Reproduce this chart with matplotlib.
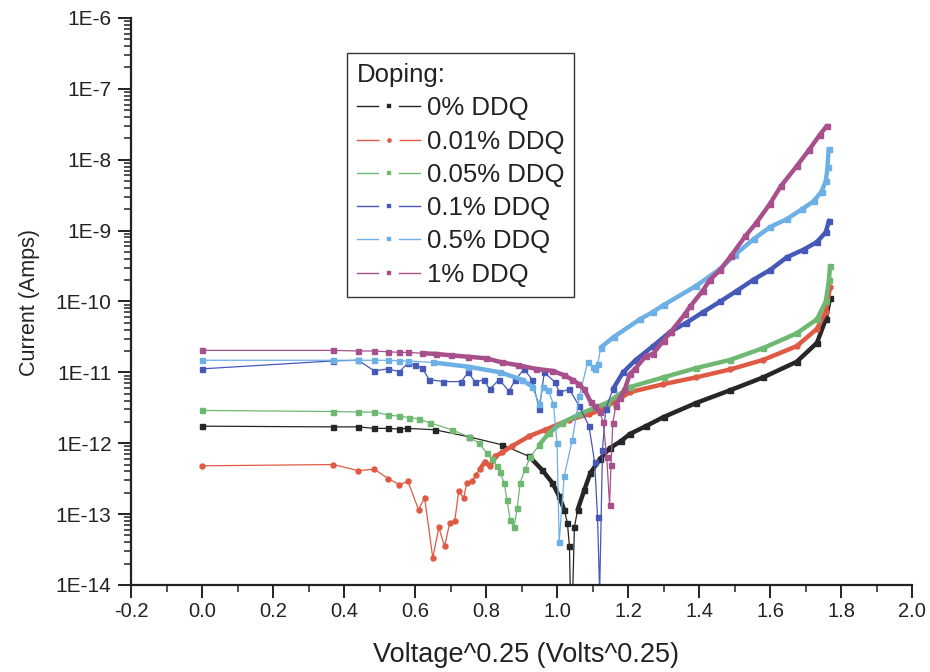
import numpy as np
import matplotlib
matplotlib.use("Agg")
import matplotlib.pyplot as plt
from matplotlib.lines import Line2D
from matplotlib.ticker import LogLocator, FuncFormatter, MultipleLocator, NullFormatter

plt.rcParams['font.family'] = ['Liberation Sans', 'DejaVu Sans']

# ---------------- data ----------------
labels = ["0% DDQ", "0.01% DDQ", "0.05% DDQ", "0.1% DDQ", "0.5% DDQ", "1% DDQ"]

x_0pct = [0.0, 0.37, 0.44, 0.485, 0.525, 0.556, 0.576, 0.655, 0.752, 0.845, 0.922, 0.958,
          0.987, 1.006, 1.020, 1.029, 1.035, 1.038, 1.043, 1.049, 1.058, 1.077, 1.094, 1.12,
          1.148, 1.18, 1.205, 1.25, 1.30, 1.392, 1.488, 1.581, 1.675, 1.732, 1.757, 1.769]
i_0pct = [1.74e-12, 1.7e-12, 1.7e-12, 1.62e-12, 1.62e-12, 1.58e-12, 1.62e-12, 1.55e-12, 1.23e-12,
          9.5e-13, 6.5e-13, 4.2e-13, 2.75e-13, 1.78e-13, 1.15e-13, 7.6e-14, 3.5e-14, 5.0e-15,
          5.0e-15, 6.6e-14, 1.15e-13, 2.2e-13, 3.8e-13, 5.9e-13, 8.5e-13, 1.07e-12, 1.35e-12,
          1.74e-12, 2.34e-12, 3.7e-12, 5.6e-12, 8.5e-12, 1.41e-11, 2.6e-11, 5.6e-11, 1.12e-10]

x_001pct = [0.0, 0.37, 0.44, 0.485, 0.525, 0.556, 0.58, 0.61, 0.627, 0.65, 0.667, 0.683, 0.698,
            0.712, 0.723, 0.737, 0.746, 0.76, 0.771, 0.783, 0.797, 0.811, 0.825, 0.845, 0.873,
            0.922, 0.967, 1.035, 1.091, 1.128, 1.205, 1.299, 1.392, 1.488, 1.581, 1.675, 1.732,
            1.757, 1.769]
i_001pct = [4.8e-13, 5.0e-13, 4.1e-13, 4.3e-13, 3.16e-13, 2.6e-13, 2.9e-13, 1.15e-13, 1.7e-13,
            2.4e-14, 6.5e-14, 3.5e-14, 7.6e-14, 8.1e-14, 2.1e-13, 1.7e-13, 2.75e-13, 2.9e-13,
            3.6e-13, 4.3e-13, 5.5e-13, 4.7e-13, 6.5e-13, 7.4e-13, 9.1e-13, 1.26e-12, 1.55e-12,
            2.14e-12, 2.57e-12, 3.0e-12, 5.25e-12, 6.8e-12, 8.5e-12, 1.1e-11, 1.5e-11, 2.34e-11,
            4.1e-11, 7.1e-11, 1.58e-10]

x_005pct = [0.0, 0.37, 0.44, 0.485, 0.525, 0.556, 0.584, 0.61, 0.641, 0.703, 0.752, 0.78, 0.803,
            0.817, 0.831, 0.839, 0.851, 0.859, 0.868, 0.879, 0.888, 0.896, 0.91, 0.924, 0.95,
            0.978, 1.015, 1.063, 1.108, 1.14, 1.205, 1.30, 1.392, 1.488, 1.581, 1.675, 1.732,
            1.757, 1.766, 1.769]
i_005pct = [2.9e-12, 2.8e-12, 2.75e-12, 2.75e-12, 2.5e-12, 2.4e-12, 2.3e-12, 2.2e-12, 1.95e-12,
            1.55e-12, 1.23e-12, 1.0e-12, 7.2e-13, 5.9e-13, 4.7e-13, 3.9e-13, 2.75e-13, 1.58e-13,
            8.3e-14, 6.5e-14, 1.23e-13, 2.75e-13, 4.3e-13, 6.3e-13, 9.5e-13, 1.41e-12, 1.95e-12,
            2.57e-12, 3.2e-12, 3.7e-12, 6.2e-12, 8.5e-12, 1.15e-11, 1.5e-11, 2.2e-11, 3.55e-11,
            5.6e-11, 1.0e-10, 2.0e-10, 3.16e-10]

x_01pct = [0.0, 0.37, 0.44, 0.485, 0.525, 0.556, 0.58, 0.60, 0.62, 0.64, 0.68, 0.73, 0.75, 0.77,
           0.794, 0.81, 0.837, 0.865, 0.882, 0.907, 0.93, 0.95, 0.964, 0.995, 1.006, 1.035,
           1.063, 1.09, 1.106, 1.114, 1.12, 1.128, 1.137, 1.157, 1.186, 1.222, 1.27, 1.318,
           1.364, 1.412, 1.46, 1.506, 1.554, 1.601, 1.647, 1.695, 1.732, 1.757, 1.766]
i_01pct = [1.12e-11, 1.45e-11, 1.48e-11, 1.05e-11, 1.12e-11, 1.02e-11, 1.35e-11, 1.26e-11,
           1.15e-11, 7.9e-12, 7.4e-12, 7.4e-12, 1.0e-11, 7.2e-12, 7.9e-12, 5.75e-12, 7.9e-12,
           5.4e-12, 7.9e-12, 1.1e-11, 7.9e-12, 3.0e-12, 1.0e-11, 7.2e-12, 5.25e-12, 5.75e-12,
           3.3e-12, 1.74e-12, 5.4e-13, 9.1e-14, 7.9e-15, 8.1e-13, 3.0e-12, 5.75e-12, 1.0e-11,
           1.5e-11, 2.34e-11, 3.7e-11, 5.0e-11, 7.1e-11, 1.0e-10, 1.41e-10, 2.04e-10, 2.8e-10,
           4.2e-10, 5.4e-10, 6.9e-10, 9.5e-10, 1.38e-9]

x_05pct = [0.0, 0.37, 0.44, 0.485, 0.525, 0.556, 0.58, 0.65, 0.75, 0.84, 0.90, 0.93, 0.95, 0.96,
           0.975, 0.99, 1.0, 1.006, 1.02, 1.043, 1.063, 1.086, 1.10, 1.108, 1.115, 1.123, 1.16,
           1.233, 1.27, 1.30, 1.392, 1.46, 1.50, 1.554, 1.60, 1.647, 1.69, 1.723, 1.745, 1.757,
           1.762, 1.765]
i_05pct = [1.48e-11, 1.48e-11, 1.48e-11, 1.48e-11, 1.48e-11, 1.45e-11, 1.45e-11, 1.38e-11,
           1.2e-11, 1.0e-11, 7.9e-12, 6.3e-12, 3.55e-12, 6.3e-12, 5.6e-12, 3.55e-12, 1.0e-12,
           4.0e-14, 3.4e-13, 1.12e-12, 4.6e-12, 1.38e-11, 1.2e-11, 1.1e-11, 1.32e-11, 2.24e-11,
           3.16e-11, 5.6e-11, 7.1e-11, 8.9e-11, 1.66e-10, 2.9e-10, 4.5e-10, 7.6e-10, 1.12e-9,
           1.45e-9, 2.0e-9, 2.6e-9, 3.55e-9, 5.0e-9, 7.9e-9, 1.41e-8]

x_1pct = [0.0, 0.37, 0.44, 0.485, 0.525, 0.556, 0.58, 0.62, 0.66, 0.70, 0.75, 0.80, 0.845, 0.89,
          0.94, 0.987, 1.02, 1.043, 1.06, 1.077, 1.095, 1.106, 1.12, 1.13, 1.14, 1.148, 1.152,
          1.157, 1.165, 1.177, 1.19, 1.205, 1.22, 1.25, 1.27, 1.30, 1.32, 1.36, 1.375, 1.41,
          1.43, 1.46, 1.49, 1.53, 1.56, 1.60, 1.63, 1.675, 1.71, 1.74, 1.76]
i_1pct = [2.04e-11, 2.04e-11, 2.0e-11, 2.0e-11, 1.95e-11, 1.91e-11, 1.91e-11, 1.86e-11, 1.82e-11,
          1.74e-11, 1.66e-11, 1.58e-11, 1.38e-11, 1.26e-11, 1.12e-11, 1.05e-11, 9.1e-12, 7.9e-12,
          6.9e-12, 5.75e-12, 3.8e-12, 3.3e-12, 2.75e-12, 2.0e-12, 6.3e-13, 1.35e-13, 5.0e-13,
          1.9e-12, 3.3e-12, 4.4e-12, 5.6e-12, 9.5e-12, 1.12e-11, 1.7e-11, 1.82e-11, 2.8e-11,
          3.7e-11, 6.6e-11, 8.5e-11, 1.41e-10, 2.0e-10, 2.8e-10, 4.4e-10, 8.3e-10, 1.26e-9,
          2.4e-9, 4.2e-9, 8.1e-9, 1.38e-8, 2.24e-8, 3.0e-8]

xs = [x_0pct, x_001pct, x_005pct, x_01pct, x_05pct, x_1pct]
ys = [i_0pct, i_001pct, i_005pct, i_01pct, i_05pct, i_1pct]

x_ticks = [-0.2, 0.0, 0.2, 0.4, 0.6, 0.8, 1.0, 1.2, 1.4, 1.6, 1.8, 2.0]

# ---------------- styling ----------------
colors = ["#262626", "#df5a44", "#6fb872", "#4658b8", "#6cb0e6", "#a8508c"]
markers = ["s", "o", "s", "s", "s", "s"]
# x-ranges where the measured points are so dense that they merge into a thick trail
dense_ranges = [
    [(0.86, 1.025), (1.055, 1.8)],
    [(0.78, 1.8)],
    [(0.93, 1.8)],
    [(1.15, 1.8)],
    [(0.62, 0.93), (1.12, 1.8)],
    [(0.6, 1.125), (1.16, 1.8)],
]

fig = plt.figure(figsize=(9.3, 6.72), dpi=100)
fig.patch.set_facecolor("white")
ax = fig.add_axes([0.1409, 0.1295, 0.8398, 0.8438])

for x, y, c, m, rngs in zip(xs, ys, colors, markers, dense_ranges):
    xa = np.asarray(x)
    ya = np.asarray(y)
    ax.plot(xa, ya, color=c, lw=0.9, marker=m, ms=3.6, mec=c, mfc=c, zorder=2)
    for a, b in rngs:
        sel = (xa >= a) & (xa <= b)
        ax.plot(xa[sel], ya[sel], color=c, lw=3.2, solid_capstyle="round",
                solid_joinstyle="round", zorder=2)

ax.set_yscale("log")
ax.set_xlim(-0.2, 2.0)
ax.set_ylim(1e-14, 1e-6)

ax.xaxis.set_major_locator(MultipleLocator(0.2))
ax.xaxis.set_minor_locator(MultipleLocator(0.1))
ax.set_xticks(x_ticks)
ax.set_xticklabels([f"{v:.1f}" for v in x_ticks])

ax.yaxis.set_major_locator(LogLocator(base=10, numticks=20))
ax.yaxis.set_minor_locator(LogLocator(base=10, subs=np.arange(2, 10), numticks=20))
ax.yaxis.set_minor_formatter(NullFormatter())
ax.yaxis.set_major_formatter(FuncFormatter(lambda v, p: "1E%d" % int(round(np.log10(v)))))

for s in ["top", "right"]:
    ax.spines[s].set_visible(False)
for s in ["left", "bottom"]:
    ax.spines[s].set_linewidth(1.6)
    ax.spines[s].set_color("#222222")

ax.tick_params(axis="both", which="major", direction="out", length=9.5, width=1.4,
               colors="#222222")
ax.tick_params(axis="both", which="minor", direction="out", length=5, width=1.1,
               colors="#222222")
ax.tick_params(axis="y", which="major", labelsize=15, pad=4.5)
ax.tick_params(axis="x", which="major", labelsize=14.5, pad=3)

fig.text(30 / 930, 1 - 302 / 672, "Current (Amps)", rotation=90, ha="center", va="center",
         fontsize=15.5, color="#222222")
fig.text(526 / 930, 1 - 655 / 672, "Voltage^0.25 (Volts^0.25)", ha="center", va="center",
         fontsize=19.5, color="#222222")

handles = [Line2D([], [], color=c, lw=1.0, marker=m, ms=9, mfc=c, mec="white", mew=5.5)
           for c, m in zip(colors, markers)]
leg = ax.legend(handles, labels, title="Doping:", loc="upper left",
                bbox_to_anchor=(0.2766, 0.9383), borderaxespad=0, fontsize=18.5,
                title_fontsize=18.5, handlelength=2.45, handletextpad=0.25, borderpad=0.4,
                labelspacing=0.36, frameon=True, fancybox=False, framealpha=1,
                edgecolor="#333333", alignment="left")
leg.get_frame().set_linewidth(1.0)
for t in leg.get_texts():
    t.set_color("#222222")
leg.get_title().set_color("#222222")

fig.savefig("out.png", dpi=100)
